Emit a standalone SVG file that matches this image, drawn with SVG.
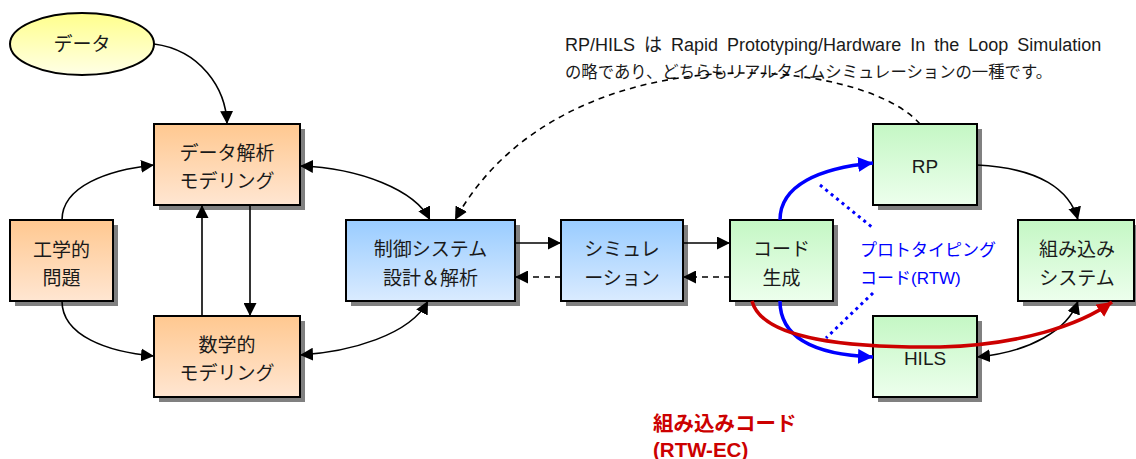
<svg xmlns="http://www.w3.org/2000/svg" width="1136" height="459" viewBox="0 0 1136 459">
<style>
.box{stroke:#000;stroke-width:2}
.sh{fill:#808080}
.t{font-family:"Liberation Sans","Noto Sans CJK JP",sans-serif;font-size:19px;fill:#1a1a1a;text-anchor:middle}
.c{fill:none;stroke:#000;stroke-width:1.6}
.d{fill:none;stroke:#000;stroke-width:1.6;stroke-dasharray:6,5}
.b{fill:none;stroke:#0000FF;stroke-width:3.5}
.r{fill:none;stroke:#CC0000;stroke-width:3.5}
</style>
<defs>
<linearGradient id="go" x1="0" y1="0" x2="0" y2="1"><stop offset="0" stop-color="#FFC890"/><stop offset="1" stop-color="#FFE6D2"/></linearGradient>
<linearGradient id="gb" x1="0" y1="0" x2="0" y2="1"><stop offset="0" stop-color="#99CCFF"/><stop offset="1" stop-color="#DAEBFF"/></linearGradient>
<linearGradient id="gg" x1="0" y1="0" x2="0" y2="1"><stop offset="0" stop-color="#C4F7C4"/><stop offset="1" stop-color="#EDFFED"/></linearGradient>
<linearGradient id="gy" x1="0" y1="0" x2="0" y2="1"><stop offset="0" stop-color="#FFFF8C"/><stop offset="1" stop-color="#FFFFE6"/></linearGradient>
<marker id="ah" viewBox="0 0 12 12" refX="12" refY="6" markerWidth="13" markerHeight="13" markerUnits="userSpaceOnUse" orient="auto-start-reverse"><path d="M0,0 L12,6 L0,12 z" fill="#000"/></marker>
<marker id="ahb" viewBox="0 0 12 12" refX="12" refY="6" markerWidth="15" markerHeight="15" markerUnits="userSpaceOnUse" orient="auto"><path d="M0,0 L12,6 L0,12 z" fill="#0000FF"/></marker>
<marker id="ahr" viewBox="0 0 12 12" refX="12" refY="6" markerWidth="15" markerHeight="15" markerUnits="userSpaceOnUse" orient="auto"><path d="M0,0 L12,6 L0,12 z" fill="#CC0000"/></marker>
</defs>
<rect width="1136" height="459" fill="#fff"/>

<g id="note">
<text x="565" y="51" font-family="'Liberation Sans','Noto Sans CJK JP',sans-serif" font-size="18" word-spacing="4" fill="#1a1a1a">RP/HILS は Rapid Prototyping/Hardware In the Loop Simulation</text>
<text x="565" y="78" font-family="'Noto Sans CJK JP',sans-serif" font-size="16.5" fill="#1a1a1a" textLength="487" lengthAdjust="spacingAndGlyphs">の略であり、どちらもリアルタイムシミュレーションの一種です。</text>
</g>

<g id="n-data">
<ellipse cx="82" cy="44" rx="72" ry="31" fill="url(#gy)" stroke="#000" stroke-width="2"/>
<text class="t" x="82" y="51">データ</text>
</g>
<g id="n-analysis">
<rect class="sh" x="159" y="129" width="146" height="81"/>
<rect class="box" x="154" y="124" width="146" height="81" fill="url(#go)"/>
<text class="t" x="227" y="160">データ解析</text>
<text class="t" x="227" y="188">モデリング</text>
</g>
<g id="n-problem">
<rect class="sh" x="15" y="225" width="103" height="81"/>
<rect class="box" x="10" y="220" width="103" height="81" fill="url(#go)"/>
<text class="t" x="61.5" y="257">工学的</text>
<text class="t" x="61.5" y="285">問題</text>
</g>
<g id="n-math">
<rect class="sh" x="159" y="321" width="146" height="81"/>
<rect class="box" x="154" y="316" width="146" height="81" fill="url(#go)"/>
<text class="t" x="227" y="352">数学的</text>
<text class="t" x="227" y="380">モデリング</text>
</g>
<g id="n-control">
<rect class="sh" x="351" y="225" width="169" height="81"/>
<rect class="box" x="346" y="220" width="169" height="81" fill="url(#gb)"/>
<text class="t" x="430.5" y="256">制御システム</text>
<text class="t" x="430.5" y="285">設計＆解析</text>
</g>
<g id="n-sim">
<rect class="sh" x="566" y="225" width="122" height="81"/>
<rect class="box" x="561" y="220" width="122" height="81" fill="url(#gb)"/>
<text class="t" x="622" y="256">シミュレ</text>
<text class="t" x="622" y="285">ーション</text>
</g>
<g id="n-codegen">
<rect class="sh" x="735" y="225" width="103" height="81"/>
<rect class="box" x="730" y="220" width="103" height="81" fill="url(#gg)"/>
<text class="t" x="781.5" y="256">コード</text>
<text class="t" x="781.5" y="285">生成</text>
</g>
<g id="n-rp">
<rect class="sh" x="878" y="129" width="104" height="81"/>
<rect class="box" x="873" y="124" width="104" height="81" fill="url(#gg)"/>
<text class="t" x="925" y="173">RP</text>
</g>
<g id="n-hils">
<rect class="sh" x="878" y="321" width="104" height="81"/>
<rect class="box" x="873" y="316" width="104" height="81" fill="url(#gg)"/>
<text class="t" x="925" y="365">HILS</text>
</g>
<g id="n-embedded">
<rect class="sh" x="1023" y="225" width="116" height="81"/>
<rect class="box" x="1018" y="220" width="116" height="81" fill="url(#gg)"/>
<text class="t" x="1077" y="256">組み込み</text>
<text class="t" x="1077" y="285">システム</text>
</g>

<g id="connectors">
<path class="c" d="M154,44 C200,50 226,88 227,124" marker-end="url(#ah)"/>
<path class="c" d="M62,220 C62,186 108,170 154,165" marker-end="url(#ah)"/>
<path class="c" d="M62,301 C62,336 108,352 154,356" marker-end="url(#ah)"/>
<path class="c" d="M202,316 L202,205" marker-end="url(#ah)"/>
<path class="c" d="M250,205 L250,316" marker-end="url(#ah)"/>
<path class="c" d="M300,166 C360,168 415,190 430,220" marker-start="url(#ah)" marker-end="url(#ah)"/>
<path class="c" d="M428,301 C410,335 350,352 300,355" marker-start="url(#ah)" marker-end="url(#ah)"/>
<path class="d" d="M920,124 C860,55 560,30 455,220" marker-end="url(#ah)"/>
<path class="c" d="M515,243 L561,243" marker-end="url(#ah)"/>
<path class="d" d="M561,277 L515,277" marker-end="url(#ah)"/>
<path class="c" d="M683,243 L730,243" marker-end="url(#ah)"/>
<path class="d" d="M730,277 L683,277" marker-end="url(#ah)"/>
<path class="b" d="M780,220 C780,185 820,168 873,163" marker-end="url(#ahb)"/>
<path class="b" d="M780,301 C780,342 822,355 873,357" marker-end="url(#ahb)"/>
<path fill="none" stroke="#0000FF" stroke-width="3" stroke-dasharray="3,4" d="M820,185 L873,228"/>
<path fill="none" stroke="#0000FF" stroke-width="3" stroke-dasharray="3,4" d="M873,293 L826,338"/>
<path class="c" d="M977,165 C1040,168 1070,190 1078,220" marker-end="url(#ah)"/>
<path class="c" d="M977,357 C1030,352 1068,330 1078,301" marker-start="url(#ah)" marker-end="url(#ah)"/>
<path class="r" d="M752,301 C762,340 850,348 940,347 C1020,345 1080,325 1112,302" marker-end="url(#ahr)"/>
</g>

<g id="labels">
<text x="860" y="256" font-family="'Liberation Sans','Noto Sans CJK JP',sans-serif" font-size="17" fill="#0000FF">プロトタイピング</text>
<text x="860" y="284" font-family="'Liberation Sans','Noto Sans CJK JP',sans-serif" font-size="17" fill="#0000FF">コード(RTW)</text>
<text x="653" y="431" font-family="'Liberation Sans','Noto Sans CJK JP',sans-serif" font-size="20.5" font-weight="bold" fill="#CC0000">組み込みコード</text>
<text x="653" y="457" font-family="'Liberation Sans','Noto Sans CJK JP',sans-serif" font-size="20.5" font-weight="bold" fill="#CC0000">(RTW-EC)</text>
</g>
</svg>
